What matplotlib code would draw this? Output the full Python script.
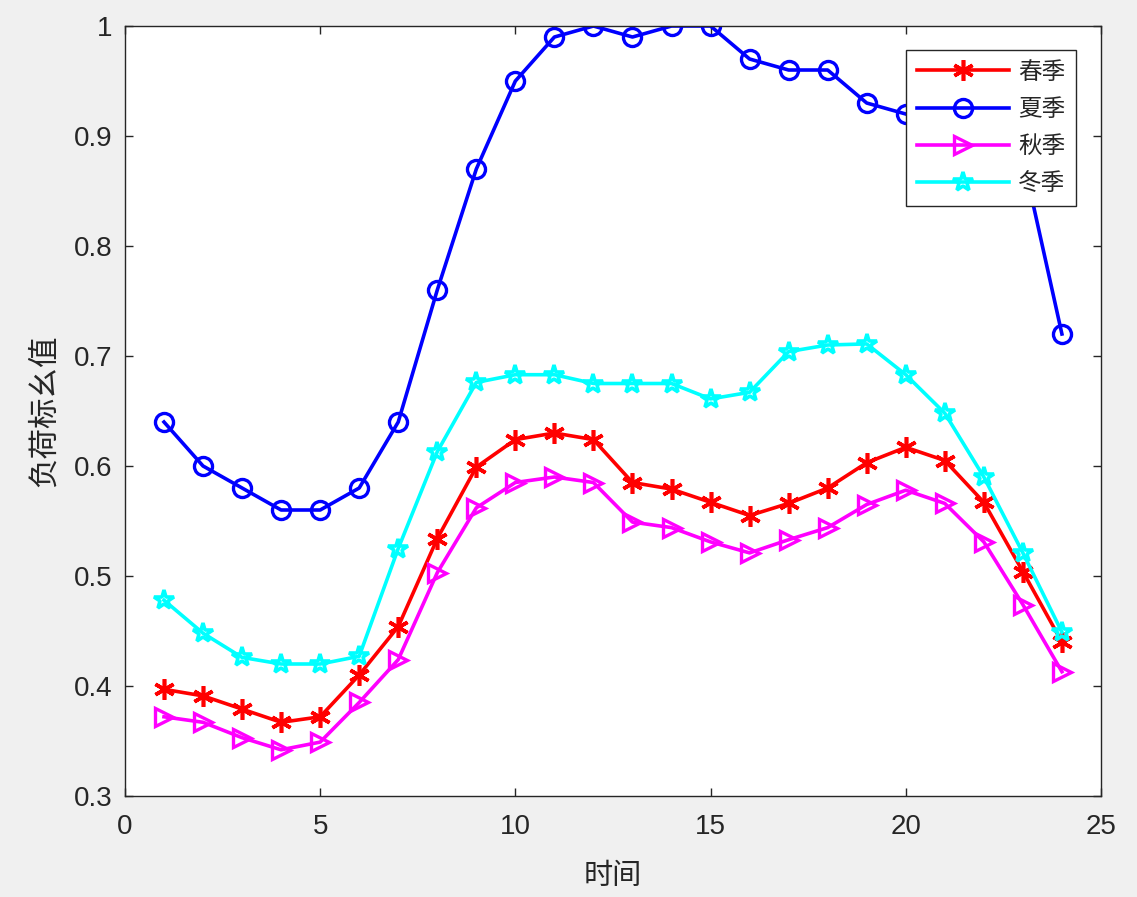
# Load profile of the four seasons, MATLAB-style line chart
import matplotlib
matplotlib.use('Agg')
import matplotlib.pyplot as plt
from matplotlib.ticker import FuncFormatter

plt.rcParams['font.family'] = ['Liberation Sans', 'Noto Sans CJK SC', 'DejaVu Sans']

# Hours
hours = list(range(1, 25))

# Per-unit load for each season
spring = [0.397, 0.391, 0.379, 0.367, 0.372, 0.410, 0.454, 0.534, 0.599, 0.624, 0.630, 0.624,
          0.585, 0.579, 0.567, 0.555, 0.566, 0.580, 0.603, 0.617, 0.605, 0.567, 0.504, 0.440]
summer = [0.64, 0.60, 0.58, 0.56, 0.56, 0.58, 0.64, 0.76, 0.87, 0.95, 0.99, 1.00,
          0.99, 1.00, 1.00, 0.97, 0.96, 0.96, 0.93, 0.92, 0.91, 0.90, 0.88, 0.72]
autumn = [0.372, 0.367, 0.353, 0.342, 0.349, 0.385, 0.424, 0.503, 0.562, 0.585, 0.590, 0.585,
          0.549, 0.544, 0.531, 0.521, 0.533, 0.544, 0.565, 0.578, 0.566, 0.531, 0.474, 0.413]
winter = [0.478, 0.448, 0.426, 0.420, 0.420, 0.427, 0.525, 0.613, 0.676, 0.683, 0.683, 0.675,
          0.675, 0.675, 0.661, 0.667, 0.704, 0.710, 0.711, 0.683, 0.648, 0.590, 0.521, 0.449]

labels = ['春季', '夏季', '秋季', '冬季']
xticks = [0, 5, 10, 15, 20, 25]
yticks = [0.3, 0.4, 0.5, 0.6, 0.7, 0.8, 0.9, 1.0]

fig = plt.figure(figsize=(11.37, 8.97), dpi=100, facecolor='#f0f0f0')
ax = fig.add_axes([0.1099, 0.1126, 0.8584, 0.8584])

# Draw the four seasons (asterisk, circle, right triangle, pentagram)
asterisk = (6, 2, 0)
ax.plot(hours, spring, color='red', marker=asterisk, ms=15, mew=2.6, lw=2.6, label=labels[0])
ax.plot(hours, summer, color='blue', marker='o', ms=13, mew=2.4, mfc='none', lw=2.6, label=labels[1])
ax.plot(hours, autumn, color='magenta', marker='>', ms=13, mew=2.4, mfc='none', lw=2.6, label=labels[2])
ax.plot(hours, winter, color='cyan', marker='*', ms=15, mew=2.6, mfc='none', lw=2.6, label=labels[3])

# Axes limits and ticks
ax.set_xlim(0, 25)
ax.set_ylim(0.3, 1.0)
ax.set_xticks(xticks)
ax.set_yticks(yticks)
ax.yaxis.set_major_formatter(FuncFormatter(lambda v, p: '1' if abs(v - 1) < 1e-9 else '%.1f' % v))
ax.tick_params(direction='in', top=True, right=True, length=6, width=1,
               labelsize=20, colors='#262626')
ax.tick_params(axis='y', pad=9)
ax.tick_params(axis='x', pad=13)
for s in ax.spines.values():
    s.set_color('#262626')
    s.set_linewidth(1)

# Labels
ax.set_xlabel('时间', fontsize=21, color='#262626', family=['Noto Sans CJK SC'], labelpad=15)
ax.set_ylabel('负荷标幺值', fontsize=22, color='#262626', family=['Noto Sans CJK SC'], labelpad=10)

# Legend
leg = ax.legend(loc='upper right', bbox_to_anchor=(0.9744, 0.9688),
                prop={'family': ['Noto Sans CJK SC'], 'size': 17},
                fancybox=False, framealpha=1, edgecolor='#262626', borderaxespad=0,
                handlelength=3.9, labelspacing=0.6, borderpad=0.45, handletextpad=0.4)
leg.get_frame().set_linewidth(1)
for t in leg.get_texts():
    t.set_color('#262626')

plt.savefig('out.png', dpi=100, facecolor=fig.get_facecolor())
